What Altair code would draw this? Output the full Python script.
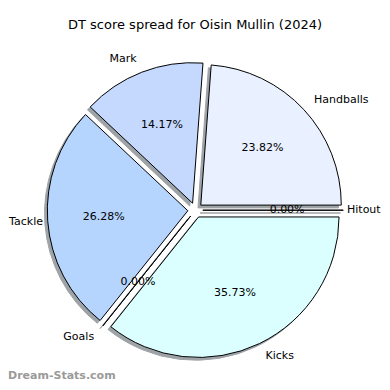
import altair as alt
import pandas as pd

categories = ["Hitout", "Handballs", "Mark", "Tackle", "Goals", "Kicks"]
shares = [0.00, 23.82, 14.17, 26.28, 0.00, 35.73]
colors = ["#f2f6ff", "#e9f0ff", "#c5d9ff", "#b5d5ff", "#cfe6ff", "#dbffff"]
title_text = "DT score spread for Oisin Mullin (2024)"
watermark = "Dream-Stats.com"

df = pd.DataFrame({
    "category": categories,
    "share": shares,
    "color": colors,
    "order": list(range(len(categories))),
})

# layout constants (plot-area pixels)
W, H = 374, 374
CX, CY, R, E, SH = 187.3, 202.2, 140.5, 7.5, 2.8
FONT = "DejaVu Sans"

base = (
    alt.Chart(df)
    .transform_window(cum="sum(share)", frame=[None, 0], sort=[alt.SortField("order")])
    .transform_joinaggregate(total="sum(share)")
    .transform_calculate(
        a1="2*PI*(datum.cum - datum.share)/datum.total",
        a2="2*PI*datum.cum/datum.total",
    )
    .transform_calculate(mid="(datum.a1 + datum.a2)/2")
    .transform_calculate(
        ox=f"{CX} + {E}*cos(datum.mid)",
        oy=f"{CY} - {E}*sin(datum.mid)",
        t1="2.5*PI - datum.a2",
        t2="2.5*PI - datum.a1",
    )
    .transform_calculate(
        sx=f"datum.ox - {SH}",
        sy=f"datum.oy + {SH}",
        lx=f"datum.ox + {1.1 * R}*cos(datum.mid)",
        ly=f"datum.oy - {1.1 * R}*sin(datum.mid)",
        px=f"datum.ox + {0.6 * R}*cos(datum.mid)",
        py=f"datum.oy - {0.6 * R}*sin(datum.mid)",
        pct="format(100*datum.share/datum.total, '.2f') + '%'",
        right="cos(datum.mid) >= -1e-9",
    )
)

shadow = base.mark_arc(radius=R, fill="#9ea3a7", stroke="#9ea3a7", strokeWidth=1).encode(
    x=alt.X("sx:Q", scale=None),
    y=alt.Y("sy:Q", scale=None),
    theta=alt.Theta("t1:Q", scale=None, stack=None),
    theta2=alt.Theta2("t2:Q"),
)

wedges = base.mark_arc(radius=R, stroke="black", strokeWidth=1).encode(
    x=alt.X("ox:Q", scale=None),
    y=alt.Y("oy:Q", scale=None),
    theta=alt.Theta("t1:Q", scale=None, stack=None),
    theta2=alt.Theta2("t2:Q"),
    fill=alt.Fill("color:N", scale=None),
)

labels_right = base.transform_filter("datum.right").transform_calculate(
    lxc=f"min(datum.lx, {W - 35})"
).mark_text(
    align="left", baseline="middle", font=FONT, fontSize=11, color="black"
).encode(
    x=alt.X("lxc:Q", scale=None),
    y=alt.Y("ly:Q", scale=None),
    text="category:N",
)

labels_left = base.transform_filter("!datum.right").transform_calculate(
    lxc="max(datum.lx, 35)"
).mark_text(
    align="right", baseline="middle", font=FONT, fontSize=11, color="black"
).encode(
    x=alt.X("lxc:Q", scale=None),
    y=alt.Y("ly:Q", scale=None),
    text="category:N",
)

pcts = base.mark_text(
    align="center", baseline="middle", font=FONT, fontSize=11, color="black"
).encode(
    x=alt.X("px:Q", scale=None),
    y=alt.Y("py:Q", scale=None),
    text="pct:N",
)

title = alt.Chart(pd.DataFrame({"t": [title_text]})).mark_text(
    align="center", baseline="middle", font=FONT, fontSize=13, color="black"
).encode(x=alt.value(187), y=alt.value(17), text="t:N")

wm = alt.Chart(pd.DataFrame({"t": [watermark]})).mark_text(
    align="left", baseline="middle", font=FONT, fontSize=11, fontWeight="bold", color="#9a9a9a"
).encode(x=alt.value(0), y=alt.value(368), text="t:N")

chart = (
    alt.layer(shadow, wedges, pcts, labels_right, labels_left, title, wm)
    .properties(width=W, height=H, autosize=alt.AutoSizeParams(type="none"), padding=0)
    .configure_view(stroke=None)
)

chart.save("out.html", embed_options={"renderer": "svg", "actions": False})
